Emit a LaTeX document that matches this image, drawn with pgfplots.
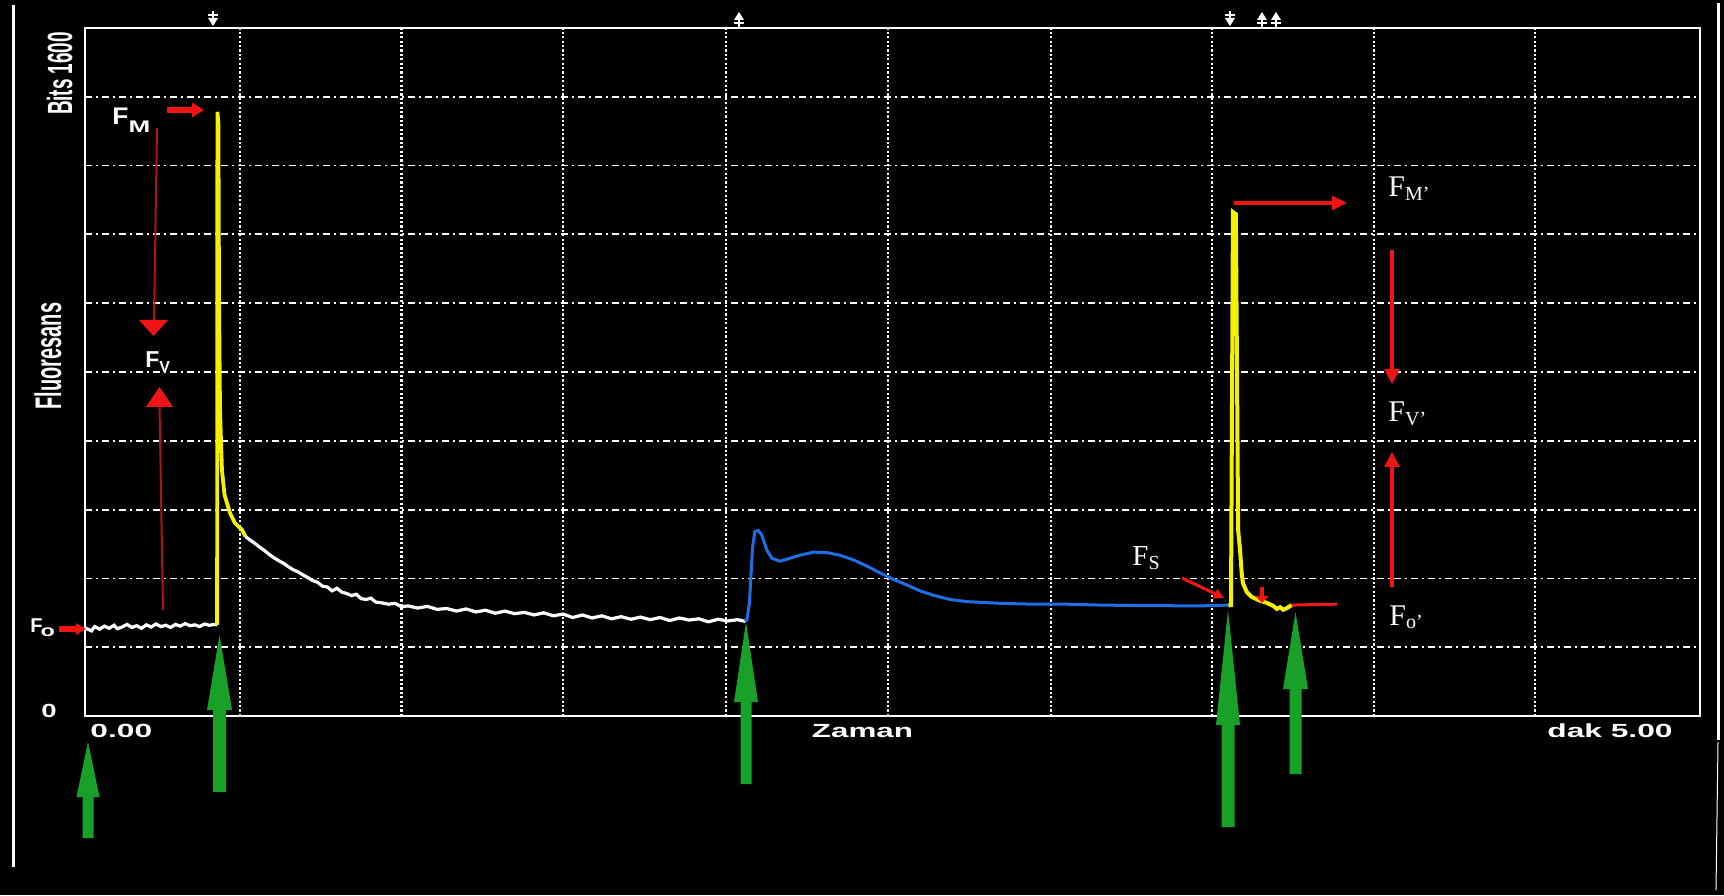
\documentclass[border=0pt]{standalone}
\usepackage{pgfplots}
\pgfplotsset{compat=1.18}
\usepackage{fontspec}
\setmainfont{Liberation Serif}
\setsansfont{Liberation Sans}
\usetikzlibrary{arrows.meta}

\definecolor{trYellow}{RGB}{245,240,0}
\definecolor{trBlue}{RGB}{30,110,230}
\definecolor{trRed}{RGB}{235,25,25}
\definecolor{arRed}{RGB}{240,20,20}
\definecolor{lnRed}{RGB}{175,20,20}
\definecolor{arGreen}{RGB}{25,160,40}

% block arrow pointing up: centre x, tip y, head base y, head half width, shaft half width, bottom y
\newcommand\blockarrow[6]{%
  \fill[arGreen] ({#1},{#2}) -- ({#1+#4},{#3}) -- ({#1+#5},{#3}) -- ({#1+#5},{#6})
    -- ({#1-#5},{#6}) -- ({#1-#5},{#3}) -- ({#1-#4},{#3}) -- cycle;}

\begin{document}
\begin{tikzpicture}[x=1pt,y=1pt]
\fill[black] (0,0) rectangle (862,447.5);
\begin{axis}[
  at={(42.5pt,89.5pt)}, anchor=south west,
  scale only axis, width=807.5pt, height=344pt,
  xmin=0, xmax=5, ymin=0, ymax=1600,
  clip=false,
  axis line style={white, line width=1.3pt},
  xtick={0.48,0.98,1.48,1.985,2.485,2.99,3.49,3.99,4.49},
  ytick={160,320,480,640,800,960,1120,1280,1440},
  xticklabels={}, yticklabels={},
  major tick length=0pt,
  xmajorgrids, ymajorgrids,
  major x grid style={white, line width=1.1pt, dash pattern=on 1.1pt off 1.1pt},
  major y grid style={white, line width=0.9pt, dash pattern=on 3.5pt off 2pt on 1pt off 2pt},
]
% dark-adapted baseline F0
\addplot[white, line width=1.6pt] coordinates {
(0.00,205) (0.02,198) (0.03,208) (0.045,202) (0.06,209) (0.075,204) (0.09,211)
(0.10,203) (0.115,207) (0.13,213) (0.145,206) (0.16,210) (0.175,204) (0.19,212)
(0.205,207) (0.22,214) (0.235,208) (0.25,211) (0.265,206) (0.28,213) (0.295,209)
(0.31,215) (0.325,210) (0.34,212) (0.355,208) (0.37,214) (0.385,211) (0.40,213) (0.409,212)};
% saturating pulse -> FM
\addplot[trYellow, line width=1.9pt] coordinates {
(0.409,212) (0.410,1405) (0.413,1378) (0.415,967) (0.418,712) (0.424,572)
(0.432,514) (0.449,472) (0.464,449) (0.486,433) (0.497,417)};
% dark relaxation
\addplot[white, line width=1.6pt] coordinates {
(0.497,417) (0.51,410) (0.525,402) (0.54,393) (0.555,385) (0.57,376) (0.585,368)
(0.60,361) (0.615,355) (0.63,347) (0.645,340) (0.66,335) (0.675,328) (0.69,322)
(0.705,315) (0.72,311) (0.735,302) (0.75,300) (0.765,291) (0.78,297) (0.795,288)
(0.81,285) (0.825,280) (0.84,283) (0.855,273) (0.87,271) (0.885,274) (0.90,265)
(0.92,263) (0.94,260) (0.96,262) (0.98,254) (1.00,256) (1.03,251) (1.06,255)
(1.09,248) (1.12,250) (1.15,244) (1.18,249) (1.21,242) (1.24,246) (1.27,239)
(1.30,244) (1.33,238) (1.36,241) (1.39,235) (1.42,240) (1.45,233) (1.48,237)
(1.51,229) (1.54,235) (1.57,228) (1.60,233) (1.63,226) (1.66,231) (1.69,225)
(1.72,230) (1.75,224) (1.78,229) (1.81,222) (1.84,228) (1.87,223) (1.90,226)
(1.93,219) (1.96,225) (1.99,221) (2.02,224) (2.045,220)};
% actinic light on
\addplot[trBlue, line width=1.5pt] coordinates {
(2.043,220) (2.049,223) (2.057,262) (2.061,316) (2.067,394) (2.074,429) (2.085,431)
(2.095,421) (2.111,386) (2.126,367) (2.152,360) (2.183,367) (2.214,374) (2.255,381)
(2.296,380) (2.337,374) (2.379,363) (2.420,349) (2.461,333) (2.502,318) (2.544,305)
(2.585,291) (2.626,281) (2.678,271) (2.730,266) (2.833,262) (2.936,260) (3.039,260)
(3.142,258) (3.246,257) (3.452,256) (3.545,258)};
% saturating pulse in the light -> FM'
\addplot[trYellow, line width=2pt] coordinates {
(3.540,257) (3.548,258) (3.554,1172) (3.563,1167) (3.567,758) (3.570,433)
(3.576,386) (3.581,333) (3.585,309) (3.597,288) (3.612,277) (3.638,268) (3.659,263)
(3.679,256) (3.690,249) (3.700,253) (3.710,247) (3.721,251) (3.736,258)};
% far-red -> F0'
\addplot[trRed, line width=1.5pt] coordinates {
(3.736,258) (3.741,258) (3.793,259) (3.876,260)};
\end{axis}

\begin{scope}[x=0.5pt, y=-0.5pt, shift={(0pt,447.5pt)}]
% frame edges of the scan
\draw[white, line width=1.5pt] (13,5) -- (13,867);
\draw[white, line width=1.5pt] (1718,3) -- (1718,740);
\draw[white, line width=0.5pt] (1718,742) -- (1716,890);

% event markers above the frame
\foreach \mx in {213,1230}{
  \draw[white, line width=1.2pt] (\mx,11) -- (\mx,20);
  \draw[white, line width=1pt] ({\mx-5},15) -- ({\mx+5},15);
  \fill[white] ({\mx-5},18) -- ({\mx+5},18) -- (\mx,26) -- cycle;}
\foreach \mx in {739,1262,1276}{
  \draw[white, line width=1.2pt] (\mx,18) -- (\mx,27);
  \draw[white, line width=1pt] ({\mx-5},23) -- ({\mx+5},23);
  \fill[white] ({\mx-5},20) -- ({\mx+5},20) -- (\mx,12) -- cycle;}

% axis texts
\node[rotate=90, inner sep=0, text=white] at (59.5,73.5)
  {\scalebox{0.54}[1]{\sffamily\bfseries\fontsize{17.5}{18}\selectfont Bits 1600}};
\node[rotate=90, inner sep=0, text=white] at (48,356)
  {\scalebox{0.54}[1]{\sffamily\bfseries\fontsize{18.5}{19}\selectfont Fluoresans}};
\node[anchor=base, inner sep=0, text=white] at (49,717)
  {\scalebox{1.45}[1]{\sffamily\bfseries\fontsize{9.5}{10}\selectfont 0}};
\node[anchor=base west, inner sep=0, text=white] at (90,737)
  {\scalebox{1.67}[1]{\sffamily\bfseries\fontsize{9.5}{10}\selectfont 0.00}};
\node[anchor=base, inner sep=0, text=white] at (862.5,737)
  {\scalebox{1.65}[1]{\sffamily\bfseries\fontsize{9.5}{10}\selectfont Zaman}};
\node[anchor=base east, inner sep=0, text=white] at (1673,737)
  {\scalebox{1.67}[1]{\sffamily\bfseries\fontsize{9.5}{10}\selectfont dak 5.00}};

% dark-adapted parameters
\node[anchor=base west, inner sep=0, text=white] at (112,125)
  {\sffamily\bfseries\fontsize{12}{12}\selectfont \scalebox{1.1}[1]{F}\raisebox{-4pt}{\scalebox{1.55}[1]{\fontsize{8.4}{9}\selectfont M}}};
\node[anchor=base west, inner sep=0, text=white] at (145,368)
  {\sffamily\bfseries\fontsize{11.5}{11}\selectfont F\raisebox{-2.5pt}{\fontsize{8}{8}\selectfont V}};
\node[anchor=base west, inner sep=0, text=white] at (30,632)
  {\sffamily\bfseries\fontsize{10}{10}\selectfont F\hspace{-1pt}\raisebox{-2pt}{\scalebox{1.3}[0.9]{\fontsize{9}{9}\selectfont o}}};

\draw[-{Triangle[length=6pt,width=7pt]}, line width=3pt, arRed] (167,110) -- (204,110);
\draw[-{Triangle[length=5pt,width=5.5pt]}, line width=2.5pt, arRed] (59,629) -- (86,629);
\draw[lnRed, line width=1pt] (157,128) -- (154,322);
\fill[arRed] (139,320) -- (168,320) -- (153.5,336) -- cycle;
\draw[lnRed, line width=1pt] (163,610) -- (159.5,405);
\fill[arRed] (146,407) -- (173,407) -- (159.5,387) -- cycle;

% light-adapted parameters
\node[anchor=base west, inner sep=0, text=white] at (1388,197)
  {\fontsize{15}{15}\selectfont F\raisebox{-1.7pt}{\fontsize{10}{10}\selectfont M’}};
\node[anchor=base west, inner sep=0, text=white] at (1388,422)
  {\fontsize{15}{15}\selectfont F\raisebox{-1.7pt}{\fontsize{10}{10}\selectfont V’}};
\node[anchor=base west, inner sep=0, text=white] at (1389,625)
  {\fontsize{15}{15}\selectfont F\raisebox{-1.7pt}{\fontsize{10}{10}\selectfont o’}};
\node[anchor=base west, inner sep=0, text=white] at (1132,566)
  {\fontsize{14.5}{15}\selectfont F\raisebox{-1.7pt}{\fontsize{10}{10}\selectfont S}};

\draw[-{Triangle[length=7.5pt,width=7pt]}, line width=1.6pt, arRed] (1234,203) -- (1347,203);
\draw[-{Triangle[length=7.5pt,width=7.5pt]}, line width=1.6pt, arRed] (1392,250) -- (1392,384);
\draw[-{Triangle[length=7.5pt,width=7.5pt]}, line width=1.6pt, arRed] (1392,587) -- (1392,452);
\draw[-{Triangle[length=5pt,width=5pt]}, line width=1.5pt, arRed] (1182,578) -- (1224,598);
\draw[-{Triangle[length=3.5pt,width=6.5pt]}, line width=2pt, arRed] (1262,587) -- (1262,603);

% protocol steps
\blockarrow{88}{742}{797}{11.5}{5.5}{838}
\blockarrow{219.5}{635}{710}{12.5}{6.5}{792}
\blockarrow{746}{622}{702}{12}{5.5}{784}
\blockarrow{1228}{610}{725}{12}{6.5}{827}
\blockarrow{1295.5}{612}{689}{12.5}{6}{774}
\end{scope}
\end{tikzpicture}
\end{document}
